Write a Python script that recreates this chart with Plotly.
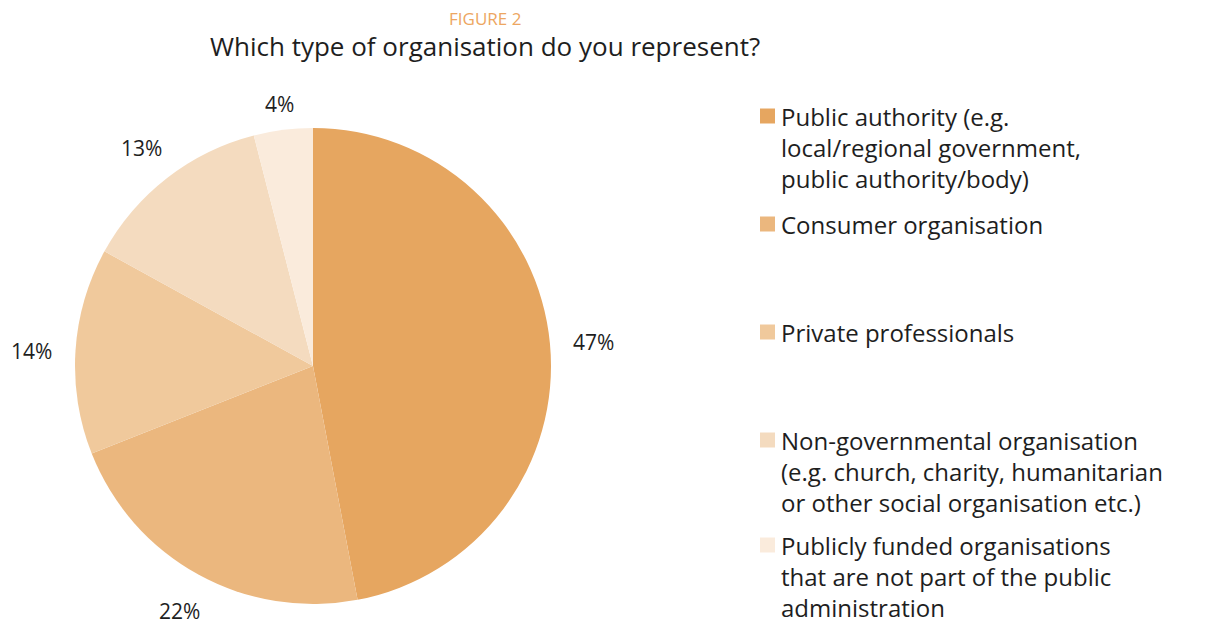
import math
import plotly.graph_objects as go

# Survey answers: share of respondents by organisation type (percent)
categories = [
    "Public authority (e.g.<br>local/regional government,<br>public authority/body)",
    "Consumer organisation",
    "Private professionals",
    "Non-governmental organisation<br>(e.g. church, charity, humanitarian<br>or other social organisation etc.)",
    "Publicly funded organisations<br>that are not part of the public<br>administration",
]
shares = [47, 22, 14, 13, 4]
colors = ["#E6A660", "#EBB77E", "#F0C99C", "#F4DBBF", "#FAEBDC"]

W, H = 1211, 627
CX, CY, R = 313, 366, 238          # pie centre and radius in px
TEXT = "#1e1e1e"
FONT = "'Open Sans', Lato, sans-serif"

fig = go.Figure(
    go.Pie(
        labels=categories,
        values=shares,
        sort=False,
        direction="clockwise",
        rotation=0,
        marker=dict(colors=colors, line=dict(width=0)),
        textinfo="none",
        hoverinfo="label+percent",
        showlegend=False,
        domain=dict(x=[(CX - R) / W, (CX + R) / W], y=[1 - (CY + R) / H, 1 - (CY - R) / H]),
    )
)

annotations = []

# Percentage labels placed outside each slice, at the slice's mid-angle
total = sum(shares)
cum = 0
for v in shares:
    mid = (cum + v / 2) / total * 2 * math.pi
    cum += v
    s, c = math.sin(mid), math.cos(mid)
    off = R + 44 - 16 * abs(c) ** 8
    px, py = CX + off * s, CY - off * c + 3
    annotations.append(dict(
        x=px / W, y=1 - py / H, xref="paper", yref="paper",
        text=f"{v}%", showarrow=False, xanchor="center", yanchor="middle",
        font=dict(family=FONT, size=21, color=TEXT),
    ))

# Legend drawn as squares plus wrapped text, one block per category
legend_tops = [116, 224, 332, 440, 545]   # first-line centres in px
shapes = []
for name, col, yc in zip(categories, colors, legend_tops):
    shapes.append(dict(
        type="rect", xref="paper", yref="paper",
        x0=760 / W, x1=775 / W, y0=1 - (yc + 7.5) / H, y1=1 - (yc - 7.5) / H,
        fillcolor=col, line=dict(width=0),
    ))
    annotations.append(dict(
        x=779 / W, y=1 - (yc - 18) / H, xref="paper", yref="paper",
        text=name, showarrow=False, xanchor="left", yanchor="top", align="left",
        font=dict(family=FONT, size=24, color=TEXT),
    ))

# Figure caption and question
annotations.append(dict(
    x=485 / W, y=1 - 18 / H, xref="paper", yref="paper", text="FIGURE 2",
    showarrow=False, xanchor="center", yanchor="middle",
    font=dict(family=FONT, size=17, color="#EDA661"),
))
annotations.append(dict(
    x=485 / W, y=1 - 46 / H, xref="paper", yref="paper",
    text="Which type of organisation do you represent?",
    showarrow=False, xanchor="center", yanchor="middle",
    font=dict(family=FONT, size=26, color=TEXT),
))

fig.update_layout(
    width=W, height=H,
    margin=dict(l=0, r=0, t=0, b=0),
    paper_bgcolor="white", plot_bgcolor="white",
    annotations=annotations, shapes=shapes,
)

fig.write_html("out.html")
